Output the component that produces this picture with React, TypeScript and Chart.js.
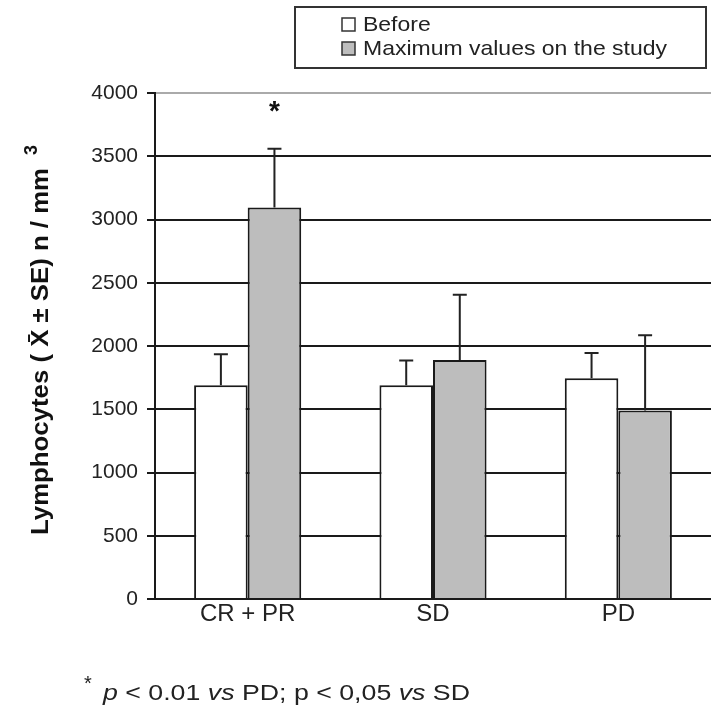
import React, { useEffect, useRef } from 'react';
import { Chart, registerables } from 'chart.js';

Chart.register(...registerables);

const categories = ['CR + PR', 'SD', 'PD'];
const seriesLabels = ['Before', 'Maximum values on the study'];
const beforeValues = [1690, 1690, 1745];
const beforeSE = [245, 195, 200];
const maxValues = [3095, 1890, 1490];
const maxSE = [465, 515, 595];
const beforeMarks = ['', '', ''];
const maxMarks = ['*', '', ''];
const yMin = 0;
const yMax = 4000;
const yStep = 500;
const yTitle = 'Lymphocytes ( X\u0304 \u00b1 SE) n / mm';
const yTitleSup = '3';
const footnoteParts: [string, boolean][] = [
  ['p', true],
  [' < 0.01 ', false],
  ['vs', true],
  [' PD; p < 0,05 ', false],
  ['vs', true],
  [' SD', false],
];

const FONT = '"Liberation Sans", Arial, sans-serif';

const errorBars = {
  id: 'errorBars',
  afterDatasetsDraw(chart: any) {
    const ctx = chart.ctx;
    const y = chart.scales.y;
    const seList = [beforeSE, maxSE];
    const markList = [beforeMarks, maxMarks];
    chart.data.datasets.forEach((ds: any, di: number) => {
      const meta = chart.getDatasetMeta(di);
      meta.data.forEach((bar: any, i: number) => {
        const v = ds.data[i];
        const top = y.getPixelForValue(v + seList[di][i]);
        const base = y.getPixelForValue(v);
        ctx.save();
        ctx.strokeStyle = '#222';
        ctx.lineWidth = 2;
        ctx.beginPath();
        ctx.moveTo(bar.x, base);
        ctx.lineTo(bar.x, top);
        ctx.moveTo(bar.x - 7, top);
        ctx.lineTo(bar.x + 7, top);
        ctx.stroke();
        const mark = markList[di][i];
        if (mark) {
          ctx.fillStyle = '#111';
          ctx.font = `bold 28px ${FONT}`;
          ctx.textAlign = 'center';
          ctx.textBaseline = 'middle';
          ctx.fillText(mark, bar.x, top - 36);
        }
        ctx.restore();
      });
    });
  },
};

function fitText(ctx: CanvasRenderingContext2D, text: string, x: number, y: number, width: number) {
  const w = ctx.measureText(text).width;
  ctx.save();
  ctx.translate(x, y);
  ctx.scale(width / w, 1);
  ctx.fillText(text, 0, 0);
  ctx.restore();
}

const decorations = {
  id: 'decorations',
  afterDraw(chart: any) {
    const ctx: CanvasRenderingContext2D = chart.ctx;
    // Y title
    ctx.save();
    ctx.fillStyle = '#111';
    ctx.translate(42, 351.5);
    ctx.rotate(-Math.PI / 2);
    ctx.font = `bold 23px ${FONT}`;
    ctx.textAlign = 'center';
    ctx.textBaseline = 'middle';
    const tw = ctx.measureText(yTitle).width;
    ctx.save();
    ctx.scale(367 / tw, 1);
    ctx.fillText(yTitle, 0, 0);
    ctx.restore();
    ctx.font = `bold 18px ${FONT}`;
    ctx.fillText(yTitleSup, 201.5, -10);
    ctx.restore();

    // Legend
    ctx.save();
    ctx.strokeStyle = '#333';
    ctx.lineWidth = 2;
    ctx.strokeRect(295, 7, 411, 61);
    const fills = ['#ffffff', '#bdbdbd'];
    const rows = [24.5, 48.5];
    ctx.font = `21px ${FONT}`;
    const refW = ctx.measureText(seriesLabels[1]).width;
    seriesLabels.forEach((lab, i) => {
      ctx.fillStyle = fills[i];
      ctx.fillRect(342, rows[i] - 6.5, 13, 13);
      ctx.strokeStyle = '#333';
      ctx.lineWidth = 1.5;
      ctx.strokeRect(342, rows[i] - 6.5, 13, 13);
      ctx.fillStyle = '#222';
      ctx.font = `21px ${FONT}`;
      ctx.textAlign = 'left';
      ctx.textBaseline = 'middle';
      const nat = ctx.measureText(lab).width;
      fitText(ctx, lab, 363, rows[i] + 1, nat * (304 / refW));
    });
    ctx.restore();

    // Footnote
    ctx.save();
    ctx.fillStyle = '#222';
    ctx.textBaseline = 'alphabetic';
    ctx.textAlign = 'left';
    ctx.font = `20px ${FONT}`;
    ctx.fillText('*', 84, 690);
    let total = 0;
    footnoteParts.forEach(([t, it]) => {
      ctx.font = `${it ? 'italic ' : ''}22px ${FONT}`;
      total += ctx.measureText(t).width;
    });
    const sx = 367 / total;
    ctx.translate(103, 700);
    ctx.scale(sx, 1);
    let x = 0;
    footnoteParts.forEach(([t, it]) => {
      ctx.font = `${it ? 'italic ' : ''}22px ${FONT}`;
      ctx.fillText(t, x, 0);
      x += ctx.measureText(t).width;
    });
    ctx.restore();
  },
};

export default function App() {
  const ref = useRef<HTMLCanvasElement>(null);
  useEffect(() => {
    const chart = new Chart(ref.current!, {
      type: 'bar',
      data: {
        labels: categories,
        datasets: [
          {
            label: seriesLabels[0],
            data: beforeValues,
            backgroundColor: '#ffffff',
            borderColor: '#1a1a1a',
            borderWidth: 2,
          },
          {
            label: seriesLabels[1],
            data: maxValues,
            backgroundColor: '#bdbdbd',
            borderColor: '#1a1a1a',
            borderWidth: 2,
          },
        ],
      },
      options: {
        responsive: false,
        animation: false,
        devicePixelRatio: 1,
        layout: { padding: { top: 93, left: 0, right: 0, bottom: 0 } },
        datasets: { bar: { categoryPercentage: 0.578, barPercentage: 1.0 } },
        plugins: { legend: { display: false }, tooltip: { enabled: false } },
        scales: {
          x: {
            grid: { display: false, drawTicks: false },
            border: { display: true, color: '#1a1a1a', width: 2 },
            ticks: { color: '#222', font: { size: 24, family: FONT }, padding: 1 },
            afterFit: (s: any) => { s.height = 121; },
          },
          y: {
            min: yMin,
            max: yMax,
            ticks: {
              stepSize: yStep,
              color: '#222',
              font: { size: 21, family: FONT },
              padding: 9,
              callback: (v: any) => String(v),
            },
            grid: {
              color: (c: any) => (c.tick && c.tick.value === yMax ? '#aaaaaa' : '#1a1a1a'),
              lineWidth: 2,
              tickLength: 8,
              tickColor: '#1a1a1a',
            },
            border: { display: true, color: '#1a1a1a', width: 2 },
            afterFit: (s: any) => { s.width = 155; },
          },
        },
      },
      plugins: [errorBars, decorations],
    });
    return () => chart.destroy();
  }, []);
  return (
    <div style={{ position: 'absolute', left: 0, top: 0, width: 711, height: 720, background: '#fff' }}>
      <canvas ref={ref} width={711} height={720} />
    </div>
  );
}
